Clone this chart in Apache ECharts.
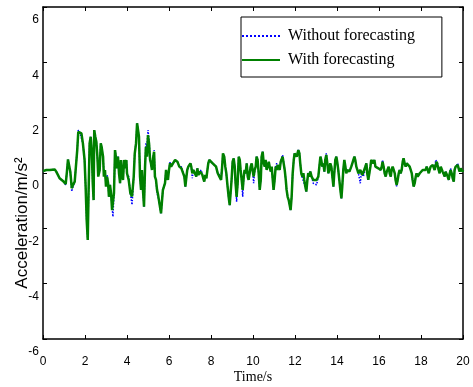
<!DOCTYPE html>
<html>
<head>
<meta charset="utf-8">
<script src="https://cdn.jsdelivr.net/npm/echarts@6/dist/echarts.min.js"></script>
<style>html,body{margin:0;padding:0;background:#fff;}#chart{width:473px;height:387px;}</style>
</head>
<body>
<div id="chart"></div>
<script>
const xTicks = [0, 2, 4, 6, 8, 10, 12, 14, 16, 18, 20];
const yTicks = [-6, -4, -2, 0, 2, 4, 6];
const seriesNames = ['Without forecasting', 'With forecasting'];

const timeS = [
0,0.16,0.32,0.40,0.56,0.63,0.71,0.79,0.87,0.98,1.08,1.14,1.19,1.24,1.30,1.37,1.43,1.51,1.59,1.63,1.68,1.75,1.83,1.90,1.98,2.03,2.08,2.13,2.17,2.22,2.27,2.32,2.37,2.41,2.44,2.49,2.54,2.59,2.63,2.70,2.75,2.79,2.86,2.90,2.95,3.00,3.05,3.10,3.14,3.19,3.24,3.29,3.33,3.38,3.43,3.48,3.52,3.57,3.62,3.67,3.71,3.76,3.81,3.86,3.90,3.97,
4.00,4.08,4.16,4.24,4.32,4.37,4.43,4.48,4.52,4.57,4.62,4.67,4.71,4.76,4.81,4.86,4.90,4.95,5.00,5.05,5.10,5.14,5.19,5.24,5.29,5.33,5.38,5.43,5.48,5.52,5.57,5.62,5.67,5.71,5.76,5.81,5.86,5.90,5.95,6.00,6.05,6.10,6.14,6.19,6.24,6.29,6.35,6.40,6.44,6.49,6.54,6.59,6.63,6.68,6.73,6.78,6.83,6.87,6.92,6.97,7.02,7.06,7.11,7.16,7.21,7.25,7.30,7.35,7.40,7.44,7.49,7.54,7.59,7.63,7.68,7.73,7.78,7.83,7.87,7.92,7.97,
8.00,8.08,8.16,8.24,8.32,8.40,8.48,8.52,8.57,8.63,8.68,8.73,8.79,8.84,8.89,8.94,8.98,9.03,9.08,9.13,9.17,9.22,9.27,9.32,9.37,9.41,9.46,9.51,9.56,9.60,9.65,9.70,9.75,9.79,9.84,9.89,9.94,9.98,10.03,10.08,10.13,10.17,10.22,10.27,10.32,10.37,10.41,10.46,10.51,10.56,10.60,10.65,10.70,10.75,10.79,10.84,10.89,10.94,10.98,11.03,11.08,11.13,11.17,11.22,11.27,11.32,11.37,11.41,11.46,11.51,11.56,11.60,11.65,11.70,11.75,11.79,11.84,11.89,11.94,11.98,
12.00,12.08,12.16,12.21,12.25,12.30,12.35,12.40,12.44,12.49,12.54,12.59,12.63,12.68,12.73,12.79,12.87,12.95,13.03,13.11,13.16,13.21,13.25,13.30,13.35,13.40,13.44,13.49,13.54,13.59,13.63,13.68,13.73,13.78,13.83,13.87,13.92,13.97,14.02,14.06,14.11,14.16,14.21,14.25,14.30,14.35,14.40,14.44,14.49,14.54,14.59,14.63,14.68,14.73,14.78,14.83,14.87,14.92,14.97,15.02,15.06,15.11,15.16,15.21,15.25,15.30,15.35,15.40,15.44,15.49,15.54,15.59,15.63,15.68,15.73,15.78,15.83,15.87,15.92,15.97,
16.00,16.08,16.13,16.17,16.22,16.27,16.32,16.37,16.41,16.46,16.51,16.56,16.60,16.65,16.70,16.75,16.79,16.84,16.89,16.94,16.98,17.03,17.08,17.13,17.17,17.22,17.27,17.32,17.37,17.41,17.46,17.51,17.56,17.60,17.65,17.70,17.75,17.79,17.84,17.89,17.94,17.98,18.03,18.08,18.13,18.17,18.22,18.27,18.32,18.37,18.41,18.46,18.51,18.56,18.60,18.65,18.70,18.75,18.79,18.84,18.89,18.94,18.98,19.03,19.08,19.13,19.17,19.22,19.27,19.32,19.37,19.41,19.46,19.51,19.56,19.60,19.65,19.70,19.75,19.79,19.84,19.89,19.94,19.98,20.00
];

const withForecasting = [
0.07,0.11,0.11,0.05,0.13,0.05,-0.07,-0.19,-0.25,-0.31,-0.40,0.05,0.49,0.47,0.05,-0.55,-0.43,-0.31,-0.37,0.83,1.49,1.43,1.43,1.07,0.47,-0.49,-1.70,-2.42,-0.73,1.07,1.31,0.83,-0.37,-0.98,1.55,1.31,1.13,0.59,-0.13,0.11,1.07,0.95,0.59,-0.13,0.11,-0.49,-0.13,-0.37,-0.86,-0.43,-0.73,-1.34,-1.40,-0.73,0.83,0.53,0.17,0.59,-0.01,-0.37,0.47,-0.07,-0.25,0.47,0.17,0.47,
-0.01,-0.25,-0.73,-0.85,-0.13,0.71,1.07,1.80,1.86,1.31,-0.13,-0.61,0.11,-0.61,-1.22,0.23,0.95,0.59,1.37,1.07,0.47,0.35,0.11,0.53,0.77,-0.13,-0.25,-0.61,-0.79,-0.98,-1.22,-1.46,-0.98,-0.61,-0.49,-0.37,0.11,-0.13,-0.25,0.11,0.35,0.23,0.17,0.35,0.29,0.47,0.53,0.41,0.35,0.23,0.29,0.17,0.11,0.17,-0.13,-0.49,-0.13,0.11,0.23,0.17,0.35,0.23,-0.01,0.11,0.05,0.11,-0.13,0.17,-0.07,-0.13,0.05,0.11,-0.07,-0.19,-0.31,-0.07,-0.19,0.11,0.35,0.47,0.47,
0.47,0.35,0.29,0.23,-0.01,-0.13,-0.25,0.11,0.71,0.59,0.23,-0.01,-0.49,-0.86,-1.16,-1.10,-0.25,0.41,0.53,0.23,-0.37,-0.86,-0.37,0.59,0.47,0.11,-0.25,-0.61,-0.13,0.11,-0.01,0.35,-0.13,-0.25,-0.01,0.23,0.35,0.11,-0.13,0.11,0.23,0.59,0.47,-0.01,-0.61,-0.25,0.59,0.77,0.35,0.23,0.47,0.11,0.23,0.41,0.35,0.05,0.23,-0.25,-0.61,-0.25,0.23,0.11,0.29,0.35,0.11,0.41,0.35,0.59,0.65,0.11,-0.25,-0.61,-0.86,-0.98,-1.04,-1.34,-0.86,-0.01,0.47,0.71,
0.71,0.59,0.83,0.71,0.35,-0.01,-0.13,-0.01,-0.25,-0.49,-0.67,-0.25,-0.01,-0.13,0.05,-0.13,-0.25,-0.19,-0.25,-0.13,0.23,0.59,0.47,0.23,0.35,0.05,0.47,0.65,0.35,-0.01,0.11,0.35,0.23,-0.13,-0.49,-0.01,0.47,0.59,0.35,0.11,-0.25,-0.61,-0.92,-0.49,0.11,0.47,0.23,-0.01,0.11,0.17,0.05,-0.01,0.23,0.35,0.47,0.59,0.47,0.23,0.11,-0.01,-0.01,0.11,0.05,-0.07,-0.13,-0.01,0.23,0.35,-0.01,-0.25,-0.01,0.23,0.47,0.41,0.35,0.47,0.23,0.17,0.23,0.17,
0.17,0.11,0.23,0.41,0.23,-0.01,-0.13,0.05,0.11,0.23,-0.01,-0.13,0.11,0.23,0.11,-0.01,-0.25,-0.43,-0.25,-0.01,0.11,-0.01,0.11,0.41,0.53,0.35,0.23,0.35,0.29,0.35,0.23,0.11,-0.01,-0.25,-0.49,-0.37,-0.13,-0.01,-0.13,-0.07,-0.01,0.05,-0.01,0.11,0.17,0.05,0.11,0.23,0.11,-0.01,0.11,0.23,0.17,0.29,0.23,0.11,0.29,0.41,0.35,0.11,-0.01,0.23,0.17,0.05,-0.01,-0.13,0.05,-0.01,-0.13,-0.25,-0.01,0.11,-0.01,-0.19,-0.31,0.11,0.23,0.17,0.29,0.17,0.05,0.17,0.11,0.05,0.11
];

const withoutForecasting = [
0.07,0.11,0.11,0.05,0.13,0.05,-0.07,-0.19,-0.25,-0.31,-0.43,0.05,0.49,0.47,0.05,-0.67,-0.49,-0.31,-0.37,0.83,1.55,1.47,1.43,1.07,0.47,-0.49,-1.70,-2.40,-0.73,1.07,1.31,0.83,-0.37,-0.98,1.55,1.31,1.13,0.59,-0.01,0.11,1.07,0.95,0.59,-0.01,0.11,-0.43,-0.07,-0.37,-0.86,-0.43,-0.79,-1.22,-1.58,-0.73,0.83,0.53,0.17,0.59,0.11,-0.37,0.47,-0.07,-0.25,0.47,0.17,0.47,
-0.01,-0.13,-0.73,-1.15,-0.13,0.77,1.07,1.80,1.86,1.31,-0.13,-0.61,0.11,-0.61,-1.22,0.23,1.07,0.95,1.55,1.19,0.47,0.35,0.11,0.53,0.83,-0.13,-0.25,-0.73,-0.79,-0.98,-1.22,-1.46,-0.98,-0.61,-0.49,-0.37,0.11,-0.25,-0.25,0.11,0.41,0.23,0.17,0.35,0.29,0.47,0.53,0.41,0.35,0.23,0.29,0.23,0.11,0.17,-0.13,-0.49,-0.13,0.11,0.23,0.17,0.35,0.23,-0.19,0.11,0.05,0.11,-0.13,0.17,-0.07,0.05,0.11,0.11,-0.07,-0.19,-0.31,-0.07,-0.19,0.11,0.35,0.47,0.47,
0.47,0.35,0.29,0.23,-0.01,-0.07,-0.13,0.11,0.71,0.59,0.23,-0.01,-0.49,-0.86,-1.16,-1.10,-0.25,0.41,0.53,0.23,-0.37,-1.04,-0.37,0.59,0.59,0.11,-0.25,-0.86,-0.13,0.11,-0.01,0.35,-0.13,-0.25,-0.01,0.23,0.35,0.11,-0.37,0.11,0.23,0.59,0.47,-0.01,-0.61,-0.25,0.59,0.77,0.35,0.23,0.47,0.11,0.35,0.41,0.35,0.05,0.23,-0.25,-0.61,-0.25,0.23,0.35,0.29,0.35,0.11,0.41,0.35,0.65,0.65,0.11,-0.25,-0.61,-0.86,-0.98,-1.04,-1.34,-0.86,-0.01,0.47,0.71,
0.71,0.59,0.83,0.71,0.35,-0.01,-0.19,-0.13,-0.25,-0.49,-0.67,-0.25,-0.01,0.05,0.05,-0.13,-0.37,-0.37,-0.43,-0.13,0.23,0.59,0.47,0.23,0.35,0.05,0.47,0.71,0.35,-0.01,0.11,0.35,0.23,-0.13,-0.49,-0.01,0.47,0.59,0.35,0.11,-0.25,-0.61,-0.92,-0.49,0.11,0.47,0.23,-0.01,0.11,0.17,0.05,-0.01,0.23,0.35,0.47,0.59,0.47,0.23,0.11,-0.01,-0.01,-0.37,0.05,0.11,-0.13,-0.01,0.23,0.35,-0.01,-0.25,-0.01,0.23,0.47,0.41,0.35,0.47,0.23,0.17,0.23,0.17,
0.17,0.11,0.23,0.47,0.23,-0.01,-0.13,0.05,0.11,0.23,-0.01,-0.13,0.11,0.23,0.11,-0.01,-0.25,-0.49,-0.25,-0.01,0.11,-0.01,0.11,0.41,0.53,0.35,0.23,0.35,0.29,0.35,0.23,0.11,-0.01,-0.25,-0.49,-0.37,-0.13,-0.01,-0.13,-0.07,-0.01,0.05,-0.01,0.11,0.17,0.05,0.11,0.23,0.11,-0.01,0.11,0.23,0.17,0.29,0.23,0.11,0.47,0.41,0.35,0.11,-0.01,0.23,0.17,0.05,-0.01,-0.13,0.05,-0.01,-0.13,-0.25,-0.01,0.17,-0.01,-0.19,-0.31,0.11,0.23,0.17,0.35,0.17,0.05,0.17,0.11,0.05,0.11
];

const sans = 'Liberation Sans, Arial, sans-serif';
const serif = 'Liberation Serif, Times New Roman, serif';
const pair = (vals) => timeS.map((t, i) => [t, vals[i]]);

const chart = echarts.init(document.getElementById('chart'), null, {renderer: 'canvas'});
const axisLineStyle = {show: true, onZero: false, lineStyle: {color: '#000', width: 1.5}};
const tickStyle = {show: true, inside: true, length: 4, lineStyle: {color: '#000', width: 1}};
chart.setOption({
  animation: false,
  backgroundColor: '#fff',
  grid: {left: 43, right: 10, top: 7, bottom: 48, containLabel: false, outerBoundsMode: 'none'},
  legend: {
    data: seriesNames,
    orient: 'vertical',
    left: 241, top: 17,
    itemWidth: 38, itemHeight: 14, itemGap: 8,
    padding: [11, 27, 9, 0],
    backgroundColor: '#fff',
    borderColor: '#000', borderWidth: 1, borderRadius: 0,
    itemStyle: {opacity: 0, borderWidth: 0},
    textStyle: {fontFamily: serif, fontSize: 16, color: '#000', padding: [0, 0, 0, 3]}
  },
  xAxis: [
    {type: 'value', min: xTicks[0], max: xTicks[xTicks.length - 1], interval: 2, position: 'bottom',
     axisLine: axisLineStyle, axisTick: tickStyle, splitLine: {show: false},
     axisLabel: {color: '#000', fontFamily: sans, fontSize: 12, margin: 17},
     name: 'Time/s', nameLocation: 'middle', nameGap: 31, nameMoveOverlap: false,
     nameTextStyle: {fontFamily: serif, fontSize: 14, color: '#000'}},
    {type: 'value', min: xTicks[0], max: xTicks[xTicks.length - 1], interval: 2, position: 'top',
     axisLine: axisLineStyle, axisTick: tickStyle, splitLine: {show: false}, axisLabel: {show: false}}
  ],
  yAxis: [
    {type: 'value', min: yTicks[0], max: yTicks[yTicks.length - 1], interval: 2, position: 'left',
     axisLine: axisLineStyle, axisTick: tickStyle, splitLine: {show: false},
     axisLabel: {color: '#000', fontFamily: sans, fontSize: 12, margin: 4, verticalAlign: 'top', padding: [7, 0, 0, 0]},
     name: 'Acceleration/m/s\u00b2', nameLocation: 'middle', nameGap: 12, nameMoveOverlap: false,
     nameTextStyle: {fontFamily: sans, fontSize: 17, color: '#000', padding: [0, 100, 0, 0]}},
    {type: 'value', min: yTicks[0], max: yTicks[yTicks.length - 1], interval: 2, position: 'right',
     axisLine: axisLineStyle, axisTick: tickStyle, splitLine: {show: false}, axisLabel: {show: false}}
  ],
  series: [
    {name: seriesNames[0], type: 'line', data: pair(withoutForecasting), symbol: 'none', showSymbol: false,
     xAxisIndex: 0, yAxisIndex: 0,
     lineStyle: {color: '#0000ff', width: 1.5, type: 'dotted'}, itemStyle: {color: '#0000ff'}},
    {name: seriesNames[1], type: 'line', data: pair(withForecasting), symbol: 'none', showSymbol: false,
     xAxisIndex: 0, yAxisIndex: 0,
     lineStyle: {color: '#008000', width: 2.5}, itemStyle: {color: '#008000'}}
  ]
});
</script>
</body>
</html>
